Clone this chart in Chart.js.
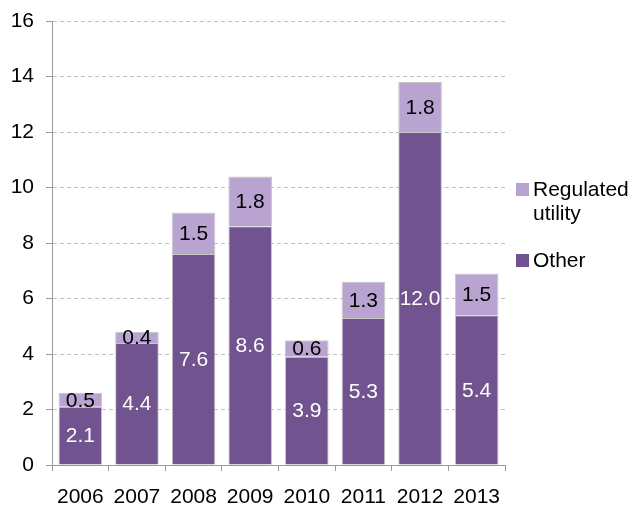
<!DOCTYPE html>
<html>
<head>
<meta charset="utf-8">
<script src="https://cdn.jsdelivr.net/npm/chart.js@4.4.0/dist/chart.umd.min.js"></script>
<style>
  html, body { margin: 0; padding: 0; background: #fff; }
  #wrap { width: 638px; height: 508px; }
</style>
</head>
<body>
<div id="wrap"><canvas id="mainChart" width="638" height="508"></canvas></div>
<script>
// Chart data
const years = ['2006', '2007', '2008', '2009', '2010', '2011', '2012', '2013'];
const otherValues = [2.1, 4.4, 7.6, 8.6, 3.9, 5.3, 12.0, 5.4];
const regulatedValues = [0.5, 0.4, 1.5, 1.8, 0.6, 1.3, 1.8, 1.5];
const yTicks = [0, 2, 4, 6, 8, 10, 12, 14, 16];

const FONT = '"Liberation Sans", Arial, sans-serif';

// draws the numbers in the middle of each bar segment
const barLabels = {
    id: 'barLabels',
    afterDatasetsDraw(chart) {
        const ctx = chart.ctx;
        ctx.save();
        ctx.font = '21px ' + FONT;
        ctx.textAlign = 'center';
        ctx.textBaseline = 'middle';
        chart.data.datasets.forEach((ds, i) => {
            const meta = chart.getDatasetMeta(i);
            meta.data.forEach((bar, j) => {
                const mid = (bar.y + bar.base) / 2;
                ctx.fillStyle = ds.labelColor;
                ctx.fillText(ds.data[j].toFixed(1), bar.x, mid + 1);
            });
        });
        ctx.restore();
    }
};

// legend on the right, Regulated utility on top
const sideLegend = {
    id: 'sideLegend',
    afterDraw(chart) {
        const ctx = chart.ctx;
        ctx.save();
        ctx.font = '21px ' + FONT;
        ctx.textBaseline = 'middle';
        ctx.textAlign = 'left';
        const items = [
            { ds: chart.data.datasets[1], lines: ['Regulated', 'utility'], y: 189 },
            { ds: chart.data.datasets[0], lines: ['Other'], y: 260 }
        ];
        items.forEach(it => {
            ctx.fillStyle = it.ds.backgroundColor;
            ctx.fillRect(516, it.y - 6, 13, 13);
            ctx.fillStyle = '#000';
            it.lines.forEach((t, k) => ctx.fillText(t, 533, it.y + 1 + k * 24));
        });
        ctx.restore();
    }
};

function initializeChart() {
    const ctx = document.getElementById('mainChart').getContext('2d');
    new Chart(ctx, {
        type: 'bar',
        data: {
            labels: years,
            datasets: [{
                label: 'Other',
                data: otherValues,
                backgroundColor: '#70538f',
                borderColor: '#c8c8c8',
                borderWidth: 1,
                labelColor: '#fff',
                barPercentage: 0.77,
                categoryPercentage: 1
            }, {
                label: 'Regulated utility',
                data: regulatedValues,
                backgroundColor: '#b9a4d1',
                borderColor: '#c8c8c8',
                borderWidth: 1,
                labelColor: '#000',
                barPercentage: 0.77,
                categoryPercentage: 1
            }]
        },
        options: {
            responsive: false,
            animation: false,
            layout: {
                padding: { top: 21, right: 133, left: 0, bottom: 0 }
            },
            plugins: {
                legend: { display: false },
                tooltip: { enabled: false }
            },
            scales: {
                x: {
                    stacked: true,
                    afterFit: s => { s.height = 43; s.paddingLeft = 0; s.paddingRight = 0; },
                    grid: {
                        drawOnChartArea: false,
                        drawTicks: true,
                        tickLength: 6,
                        tickColor: '#9a9a9a'
                    },
                    border: { color: '#9a9a9a', width: 1 },
                    ticks: {
                        color: '#000',
                        padding: 14,
                        maxRotation: 0,
                        font: { family: FONT, size: 21 }
                    }
                },
                y: {
                    stacked: true,
                    min: 0,
                    max: 16,
                    afterFit: s => { s.width = 52; s.paddingTop = 0; s.paddingBottom = 0; },
                    afterBuildTicks: s => { s.ticks = yTicks.map(v => ({ value: v })); },
                    grid: {
                        color: '#c0c0c0',
                        tickColor: '#9a9a9a',
                        tickLength: 6
                    },
                    border: { color: '#9a9a9a', width: 1, dash: [4, 3] },
                    ticks: {
                        color: '#000',
                        padding: 12,
                        font: { family: FONT, size: 21 }
                    }
                }
            }
        },
        plugins: [barLabels, sideLegend]
    });
}

initializeChart();
</script>
</body>
</html>
